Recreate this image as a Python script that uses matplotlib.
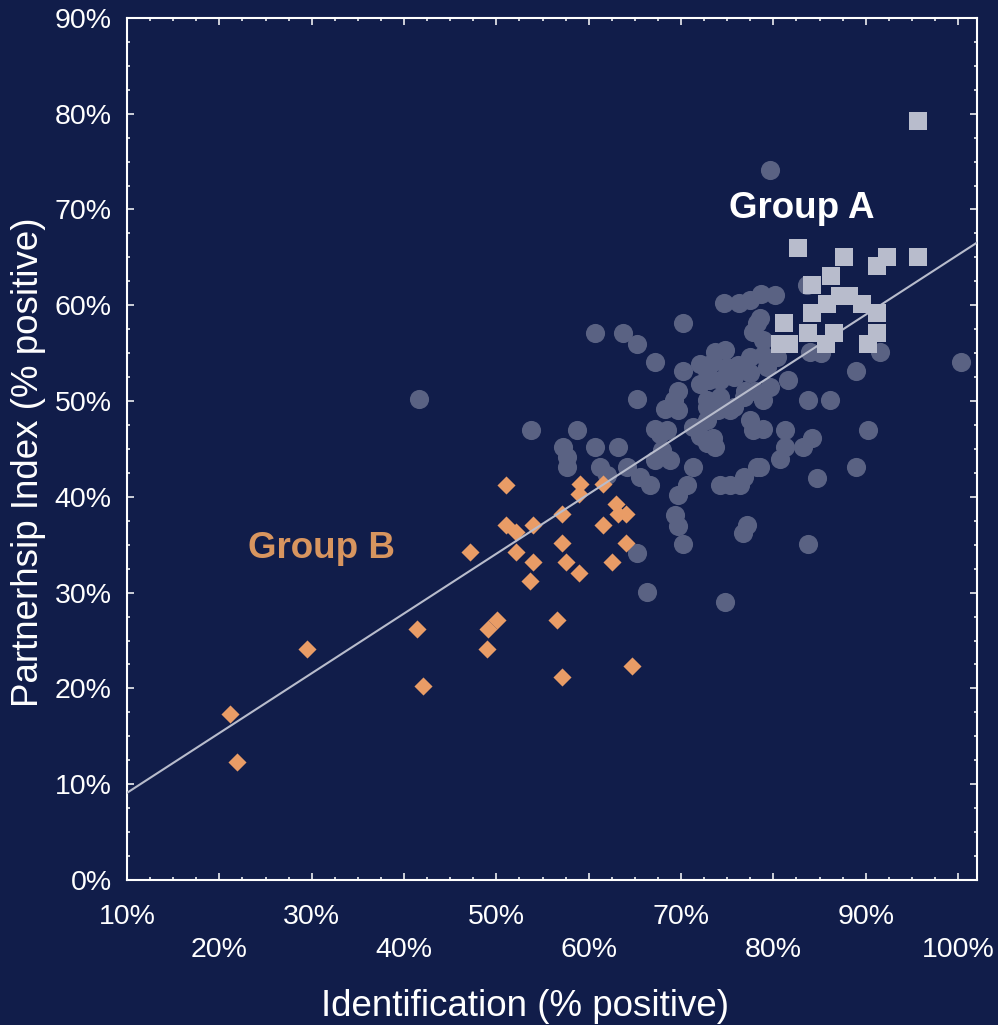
import numpy as np
import matplotlib
matplotlib.use('Agg')
from matplotlib import pyplot as plt
from matplotlib.ticker import MultipleLocator

plt.rcParams['font.family'] = ['Liberation Sans', 'DejaVu Sans']

# all states (grey circles) - identification %, partnership %
all_x = [79.6, 41.6, 53.7, 58.7, 60.7, 63.7, 65.2, 70.2, 67.2, 70.2,
         65.2, 69.7, 69.2, 68.3, 69.7, 67.2, 68.5, 57.2, 57.6, 57.6,
         60.7, 63.2, 61.2, 62.0, 64.1, 65.6, 66.6, 67.7, 67.9, 67.2,
         68.8, 71.3, 70.6, 69.7, 69.4, 69.7, 70.2, 65.2, 66.3, 74.8,
         74.2, 75.3, 76.4, 76.8, 78.2, 77.1, 76.7, 83.8, 72.8, 73.7,
         71.3, 72.1, 73.5, 72.8, 74.0, 75.7, 72.8, 74.2, 76.8, 78.0,
         79.6, 78.9, 77.5, 77.8, 78.9, 81.3, 83.2, 84.2, 81.3, 80.7,
         78.6, 88.9, 84.7, 90.3, 83.8, 86.1, 81.6, 89.0, 91.6, 100.3,
         84.0, 85.2, 83.6, 74.7, 76.3, 77.5, 78.7, 80.2, 78.6, 77.8,
         78.9, 77.5, 78.9, 80.4, 79.3, 77.5, 76.2, 75.0, 73.5, 73.7,
         74.8, 73.0, 74.2, 75.7, 72.1, 72.8, 72.1, 78.2, 76.9, 72.8,
         75.3]
all_y = [74.1, 50.2, 47.0, 47.0, 57.1, 57.1, 56.0, 58.1, 54.1, 53.1,
         50.2, 51.1, 50.1, 49.2, 49.1, 47.1, 47.0, 45.2, 44.2, 43.1,
         45.2, 45.2, 43.1, 42.3, 43.1, 42.1, 41.2, 46.6, 44.9, 43.8,
         43.8, 43.1, 41.2, 40.2, 38.1, 37.0, 35.1, 34.1, 30.1, 29.0,
         41.2, 41.2, 41.2, 42.1, 43.1, 37.1, 36.2, 35.1, 45.6, 45.2,
         47.3, 46.3, 46.1, 48.0, 49.1, 49.4, 50.1, 50.4, 50.4, 51.0,
         51.5, 50.1, 48.0, 47.0, 47.1, 47.0, 45.2, 46.1, 45.2, 44.0,
         43.1, 43.1, 42.0, 47.0, 50.1, 50.1, 52.2, 53.1, 55.1, 54.1,
         55.1, 55.0, 62.1, 60.2, 60.2, 60.5, 61.2, 61.1, 58.7, 57.2,
         56.4, 54.6, 54.8, 54.6, 53.6, 52.9, 53.8, 53.6, 54.1, 55.1,
         55.3, 52.2, 52.2, 52.5, 53.9, 53.1, 51.8, 58.1, 51.1, 49.4,
         49.1]

# Group A (light squares)
a_x = [82.7, 87.7, 92.3, 91.2, 86.2, 84.2, 87.2, 88.2, 85.8, 89.6,
       84.2, 91.2, 81.2, 83.7, 86.6, 85.7, 80.7, 81.7, 90.3, 91.2,
       95.7, 95.7]
a_y = [66.0, 65.0, 65.0, 64.1, 63.1, 62.1, 61.0, 61.0, 60.1, 60.1,
       59.2, 59.2, 58.1, 57.1, 57.1, 56.0, 56.0, 56.0, 56.0, 57.1,
       79.2, 65.0]

# Group B (orange diamonds)
b_x = [51.0, 59.1, 61.6, 59.0, 63.0, 63.2, 64.0, 57.1, 51.0, 54.0,
       52.1, 61.6, 57.1, 64.0, 47.1, 52.1, 54.0, 57.5, 59.0, 62.5,
       53.6, 50.1, 49.1, 56.6, 41.4, 29.5, 49.0, 42.1, 57.1, 64.7,
       21.1, 21.9]
b_y = [41.2, 41.3, 41.3, 40.3, 39.3, 38.2, 38.2, 38.2, 37.1, 37.1,
       36.3, 37.1, 35.2, 35.2, 34.2, 34.2, 33.2, 33.2, 32.1, 33.2,
       31.2, 27.1, 26.2, 27.1, 26.2, 24.1, 24.1, 20.2, 21.2, 22.3,
       17.3, 12.3]

# trend line
trend_intercept = 9.1   # value at x = 10
trend_slope = 0.624

x_ticks = list(range(10, 101, 10))
y_ticks = list(range(0, 91, 10))

bg = '#111d4a'
fg = 'white'

fig = plt.figure(figsize=(9.98, 10.25), dpi=100, facecolor=bg)
ax = fig.add_axes([0.1273, 0.1415, 0.8517, 0.8410], facecolor=bg)

ax.scatter(all_x, all_y, s=190, marker='o', color='#5a6283', linewidths=0, zorder=2)
ax.scatter(a_x, a_y, s=185, marker='s', color='#b8bccc', linewidths=0, zorder=3)
ax.scatter(b_x, b_y, s=85, marker='D', color='#e99c66', linewidths=0, zorder=4)

xl = np.array([10, 102.06])
ax.plot(xl, trend_intercept + trend_slope * (xl - 10), color='#b8bccc', lw=1.5, zorder=5)

ax.text(83.1, 69.1, 'Group A', color='white', fontsize=26.5, fontweight='bold',
        ha='center', va='baseline', zorder=6)
ax.text(31.1, 33.6, 'Group B', color='#d8955f', fontsize=26.5, fontweight='bold',
        ha='center', va='baseline', zorder=6)

ax.set_xlim(10, 102.06)
ax.set_ylim(0, 90)

ax.set_xticks(x_ticks)
ax.set_xticklabels([f'{v}%' if i % 2 == 0 else f'\n{v}%' for i, v in enumerate(x_ticks)])
ax.set_yticks(y_ticks)
ax.set_yticklabels([f'{v}%' for v in y_ticks])
ax.xaxis.set_minor_locator(MultipleLocator(2.5))
ax.yaxis.set_minor_locator(MultipleLocator(2.5))
for lab in ax.get_xticklabels():
    lab.set_linespacing(1.35)

ax.tick_params(which='both', direction='in', top=True, right=True, colors=fg,
               labelsize=20.5, width=1.1)
ax.tick_params(which='major', length=5)
ax.tick_params(which='minor', length=2.5)
ax.tick_params(axis='x', which='major', pad=17)
ax.tick_params(axis='y', which='major', pad=11)
for sp in ax.spines.values():
    sp.set_color(fg)
    sp.set_linewidth(1.5)

ax.set_xlabel('Identification (% positive)', color=fg, fontsize=26.5)
ax.set_ylabel('Partnerhsip Index (% positive)', color=fg, fontsize=26.5)
ax.xaxis.set_label_coords(0.468, -0.127)
ax.yaxis.set_label_coords(-0.095, 0.485)

fig.savefig('out.png', dpi=100, facecolor=bg)
